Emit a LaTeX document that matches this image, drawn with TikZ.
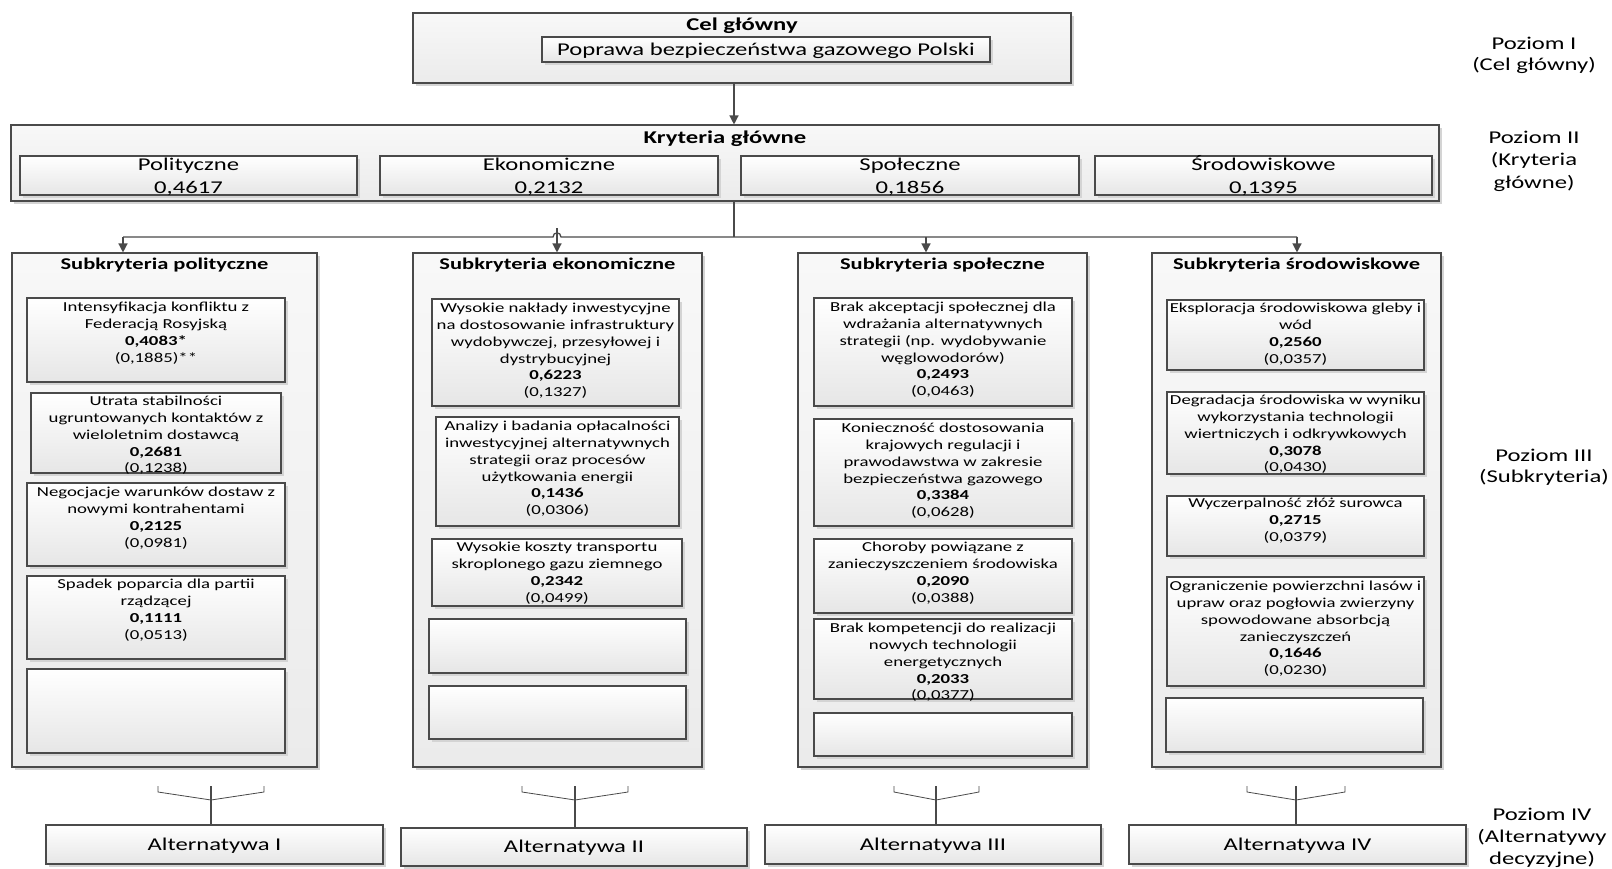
\documentclass[tikz,border=0pt]{standalone}
\usepackage{fontspec}
\setmainfont{Carlito}[FakeStretch=1.37]
\usetikzlibrary{arrows.meta,shadows}
\definecolor{lc}{HTML}{4A4A4A}
\definecolor{shd}{HTML}{D4D4D4}
\definecolor{fillA}{HTML}{F8F8F8}
\definecolor{fillB}{HTML}{EBEBEB}
\definecolor{fillC}{HTML}{E6E6E6}

% fonts (sizes in px of the final image)
\newcommand\fBig{\fontsize{18}{21.5}\selectfont}
\newcommand\fCrit{\fontsize{18}{22.5}\selectfont}
\newcommand\fHead{\fontsize{16.4}{19}\selectfont\bfseries}
\newcommand\fSmall{\fontsize{13.7}{16.8}\selectfont}

% box given by its corner coordinates: style, name, x1, y1, x2, y2
\newcommand\bx[6]{\node[#1, minimum width={(#5-#3)*1pt}, minimum height={(#6-#4)*1pt}] (#2) at ({(#3+#5)/2},{(#4+#6)/2}) {};}
% centred text block whose first line is centred at the given y
\newcommand\tx[4]{\node[txt, anchor=north] (#1) at (#2,{#3-7.2}) {\strut #4};}
% same for the 18px criteria text
\newcommand\cx[4]{\node[inner sep=0, align=center, font=\fCrit, anchor=north] (#1) at (#2,{#3-9.8}) {\strut #4};}

\tikzset{
  obox/.style={draw=lc, line width=1.1pt, top color=fillA, bottom color=fillB,
    inner sep=0, drop shadow={shadow xshift=3pt, shadow yshift=-3pt, fill=shd, opacity=1}},
  ibox/.style={draw=lc, line width=1.1pt, top color=white, bottom color=fillC,
    inner sep=0, drop shadow={shadow xshift=3pt, shadow yshift=-3pt, fill=shd, opacity=1}},
  txt/.style={inner sep=0, align=center, font=\fSmall, text=black},
  lbl/.style={inner sep=0, align=center, font=\fBig, anchor=north},
  conn/.style={draw=lc, line width=1.3pt},
  arr/.style={conn, -{Triangle[length=9pt,width=9pt]}},
  fork/.style={draw=lc, line width=0.8pt},
}

\begin{document}
\begin{tikzpicture}[x=1pt,y=-1pt]
\useasboundingbox (0,0) rectangle (1612,868);
\clip (0,0) rectangle (1612,868);
\fill[white] (0,0) rectangle (1612,868);

% ---------- level I: main goal ----------
\bx{obox}{goal}{413}{13}{1071}{83}
\node[inner sep=0, font=\fBig\bfseries] (goalt) at (742,25.5) {Cel główny};
\bx{ibox}{goali}{542}{37}{990}{62}
\node[inner sep=0, font=\fBig] (goalit) at (766,50.5) {Poprawa bezpieczeństwa gazowego Polski};

% ---------- level II: main criteria ----------
\bx{obox}{kr}{11}{125}{1439}{201}
\node[inner sep=0, font=\fBig\bfseries] (krt) at (725,139) {Kryteria główne};
\bx{ibox}{cP}{20}{156}{357}{195}
\bx{ibox}{cE}{380}{156}{718}{195}
\bx{ibox}{cS}{741}{156}{1079}{195}
\bx{ibox}{cR}{1095}{156}{1432}{195}
\cx{cPt}{188.5}{164.5}{Polityczne\\0,4617}
\cx{cEt}{549}{164.5}{Ekonomiczne\\0,2132}
\cx{cSt}{910}{164.5}{Społeczne\\0,1856}
\cx{cRt}{1263.5}{164.5}{Środowiskowe\\0,1395}

\coordinate (g1) at (734,83);
\draw[arr] (g1) -- (g1 |- kr.north);

% ---------- level III: sub-criteria columns ----------
\bx{obox}{sP}{12}{253}{317}{767}
\bx{obox}{sE}{413}{253}{702}{767}
\bx{obox}{sS}{798}{253}{1087}{767}
\bx{obox}{sR}{1152}{253}{1441}{767}

% distribution bus from the criteria block
\coordinate (bus) at (734,237);
\coordinate (bP) at (123,237);
\coordinate (bE) at (557,237);
\coordinate (bS) at (926,237);
\coordinate (bR) at (1297,237);
\draw[conn] (bus |- kr.south) -- (bus);
\draw[conn] (bP) -- (553,237) .. controls (553,231.5) and (561,231.5) .. (561,237) -- (bR);
\draw[arr] (bP) -- (bP |- sP.north);
\draw[arr] (557,228) -- (bE |- sE.north);
\draw[arr] (bS) -- (bS |- sS.north);
\draw[arr] (bR) -- (bR |- sR.north);

\node[inner sep=0, font=\fHead] (hP) at (164.5,265) {Subkryteria polityczne};
\node[inner sep=0, font=\fHead] (hE) at (557.5,265) {Subkryteria ekonomiczne};
\node[inner sep=0, font=\fHead] (hS) at (942.5,265) {Subkryteria społeczne};
\node[inner sep=0, font=\fHead] (hR) at (1296.5,265) {Subkryteria środowiskowe};

% political
\bx{ibox}{p1}{27}{298}{285}{382}
\bx{ibox}{p2}{31}{393}{281}{473}
\bx{ibox}{p3}{27}{483}{285}{566}
\bx{ibox}{p4}{27}{576}{285}{659}
\bx{ibox}{p5}{27}{669}{285}{753}
\tx{p1t}{156}{307}{Intensyfikacja konfliktu z\\Federacją Rosyjską\\\textbf{0,4083*}\\(0,1885)**}
\tx{p2t}{156}{401}{Utrata stabilności\\ugruntowanych kontaktów z\\wieloletnim dostawcą\\\textbf{0,2681}\\(0,1238)}
\tx{p3t}{156}{492}{Negocjacje warunków dostaw z\\nowymi kontrahentami\\\textbf{0,2125}\\(0,0981)}
\tx{p4t}{156}{584}{Spadek poparcia dla partii\\rządzącej\\\textbf{0,1111}\\(0,0513)}

% economic
\bx{ibox}{e1}{432}{299}{679}{406}
\bx{ibox}{e2}{436}{417}{679}{526}
\bx{ibox}{e3}{432}{539}{682}{606}
\bx{ibox}{e4}{429}{619}{686}{673}
\bx{ibox}{e5}{429}{686}{686}{739}
\tx{e1t}{555.5}{308}{Wysokie nakłady inwestycyjne\\na dostosowanie infrastruktury\\wydobywczej, przesyłowej i\\dystrybucyjnej\\\textbf{0,6223}\\(0,1327)}
\tx{e2t}{557.5}{426}{Analizy i badania opłacalności\\inwestycyjnej alternatywnych\\strategii oraz procesów\\użytkowania energii\\\textbf{0,1436}\\(0,0306)}
\tx{e3t}{557}{547}{Wysokie koszty transportu\\skroplonego gazu ziemnego\\\textbf{0,2342}\\(0,0499)}

% social
\bx{ibox}{s1}{814}{298}{1072}{406}
\bx{ibox}{s2}{814}{419}{1072}{526}
\bx{ibox}{s3}{814}{539}{1072}{613}
\bx{ibox}{s4}{814}{619}{1072}{699}
\bx{ibox}{s5}{814}{713}{1072}{756}
\tx{s1t}{943}{307}{Brak akceptacji społecznej dla\\wdrażania alternatywnych\\strategii (np. wydobywanie\\węglowodorów)\\\textbf{0,2493}\\(0,0463)}
\tx{s2t}{943}{428}{Konieczność dostosowania\\krajowych regulacji i\\prawodawstwa w zakresie\\bezpieczeństwa gazowego\\\textbf{0,3384}\\(0,0628)}
\tx{s3t}{943}{547}{Choroby powiązane z\\zanieczyszczeniem środowiska\\\textbf{0,2090}\\(0,0388)}
\tx{s4t}{943}{628}{Brak kompetencji do realizacji\\nowych technologii\\energetycznych\\\textbf{0,2033}\\(0,0377)}

% environmental
\bx{ibox}{r1}{1167}{300}{1424}{370}
\bx{ibox}{r2}{1167}{392}{1424}{474}
\bx{ibox}{r3}{1167}{496}{1424}{556}
\bx{ibox}{r4}{1167}{577}{1424}{686}
\bx{ibox}{r5}{1166}{698}{1423}{752}
\tx{r1t}{1295.5}{308}{Eksploracja środowiskowa gleby i\\wód\\\textbf{0,2560}\\(0,0357)}
\tx{r2t}{1295.5}{400}{Degradacja środowiska w wyniku\\wykorzystania technologii\\wiertniczych i odkrywkowych\\\textbf{0,3078}\\(0,0430)}
\tx{r3t}{1295.5}{503}{Wyczerpalność złóż surowca\\\textbf{0,2715}\\(0,0379)}
\tx{r4t}{1295.5}{586}{Ograniczenie powierzchni lasów i\\upraw oraz pogłowia zwierzyny\\spowodowane absorbcją\\zanieczyszczeń\\\textbf{0,1646}\\(0,0230)}

% ---------- level IV: alternatives ----------
\bx{ibox}{a1}{46}{825}{383}{864}
\bx{ibox}{a2}{401}{828}{747}{866}
\bx{ibox}{a3}{765}{825}{1101}{864}
\bx{ibox}{a4}{1129}{825}{1466}{864}
\node[inner sep=0, font=\fBig] (a1t) at (214.5,846) {Alternatywa I};
\node[inner sep=0, font=\fBig] (a2t) at (574,848) {Alternatywa II};
\node[inner sep=0, font=\fBig] (a3t) at (933,846) {Alternatywa III};
\node[inner sep=0, font=\fBig] (a4t) at (1297.5,846) {Alternatywa IV};

% merging forks above the alternatives
\coordinate (f1) at (211,786);
\coordinate (f2) at (575,786);
\coordinate (f3) at (936,786);
\coordinate (f4) at (1296,786);
\draw[fork] (158,786) -- (158,792) -- (211,800) -- (264,792) -- (264,786);
\draw[fork] (522,786) -- (522,792) -- (575,800) -- (628,792) -- (628,786);
\draw[fork] (894,786) -- (894,792) -- (936,800) -- (979,792) -- (979,786);
\draw[fork] (1247,786) -- (1247,792) -- (1296,800) -- (1345,792) -- (1345,786);
\draw[conn] (f1) -- (f1 |- a1.north);
\draw[conn] (f2) -- (f2 |- a2.north);
\draw[conn] (f3) -- (f3 |- a3.north);
\draw[conn] (f4) -- (f4 |- a4.north);

% ---------- level labels ----------
\node[lbl] (L1) at (1534,{43-9.1}) {\strut Poziom I\\(Cel główny)};
\node[lbl, font=\fontsize{18}{22.5}\selectfont] (L2) at (1534,{137-9.8}) {\strut Poziom II\\(Kryteria\\główne)};
\node[lbl] (L3) at (1544,{455-9.1}) {\strut Poziom III\\(Subkryteria)};
\node[lbl, font=\fontsize{18}{22}\selectfont] (L4) at (1542,{814-9.6}) {\strut Poziom IV\\(Alternatywy\\decyzyjne)};
\end{tikzpicture}
\end{document}
